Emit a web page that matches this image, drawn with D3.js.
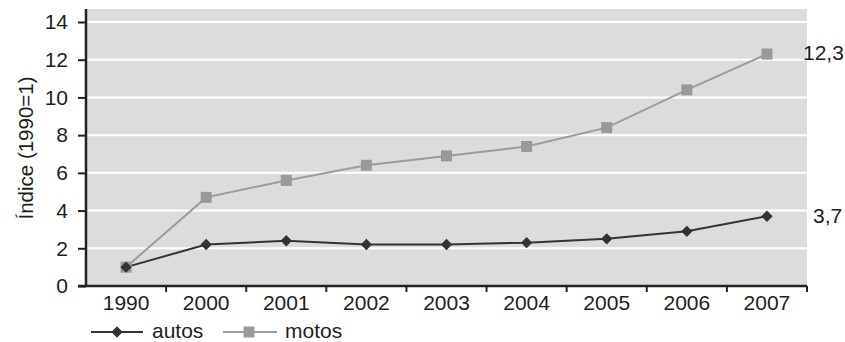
<!DOCTYPE html>
<html>
<head>
<meta charset="utf-8">
<script src="https://cdn.jsdelivr.net/npm/d3@7"></script>
<style>
  html, body { margin: 0; padding: 0; background: #ffffff; }
  svg { display: block; }
  text { font-family: "Liberation Sans", Arial, Helvetica, sans-serif; fill: #1e1e1e; }
</style>
</head>
<body>
<svg id="chart" width="845" height="342"></svg>
<script>
const years = ["1990", "2000", "2001", "2002", "2003", "2004", "2005", "2006", "2007"];
const autos = [1.0, 2.2, 2.4, 2.2, 2.2, 2.3, 2.5, 2.9, 3.7];
const motos = [1.0, 4.7, 5.6, 6.4, 6.9, 7.4, 8.4, 10.4, 12.3];
const yTicks = [0, 2, 4, 6, 8, 10, 12, 14];
const endLabels = ["3,7", "12,3"];
const seriesNames = ["autos", "motos"];
const yTitle = "Índice (1990=1)";

const svg = d3.select("#chart");
const pLeft = 86, pRight = 807, pTop = 9, pBottom = 286;

const x = d3.scaleBand().domain(years).range([pLeft, pRight]).paddingInner(0).paddingOuter(0);
const y = d3.scaleLinear().domain([0, 14]).range([pBottom, 22]);

// background
svg.append("rect").attr("x", pLeft).attr("y", pTop)
  .attr("width", pRight - pLeft).attr("height", pBottom - pTop)
  .attr("fill", "#dcdcdc");

// gridlines
svg.append("g").selectAll("line").data(yTicks.filter(d => d > 0)).join("line")
  .attr("x1", pLeft).attr("x2", pRight)
  .attr("y1", d => y(d)).attr("y2", d => y(d))
  .attr("stroke", "#ffffff").attr("stroke-width", 2);

// y axis
const yAxis = svg.append("g").attr("transform", `translate(${pLeft},0)`)
  .call(d3.axisLeft(y).tickValues(yTicks).tickSize(8).tickPadding(10).tickFormat(d3.format("d")));
yAxis.select(".domain").remove();
yAxis.selectAll(".tick line").attr("stroke", "#222").attr("stroke-width", 2);
yAxis.selectAll(".tick text").style("font-size", "21px").attr("fill", "#1e1e1e");
svg.append("line").attr("x1", pLeft).attr("x2", pLeft).attr("y1", pTop).attr("y2", pBottom + 1)
  .attr("stroke", "#222").attr("stroke-width", 2.5);

// x axis
const xAxis = svg.append("g").attr("transform", `translate(0,${pBottom})`)
  .call(d3.axisBottom(x).tickSize(0).tickPadding(9));
xAxis.select(".domain").remove();
xAxis.selectAll(".tick text").style("font-size", "21px").attr("fill", "#1e1e1e");
svg.append("line").attr("x1", pLeft - 8).attr("x2", pRight).attr("y1", pBottom).attr("y2", pBottom)
  .attr("stroke", "#222").attr("stroke-width", 2.5);
// boundary ticks
svg.append("g").selectAll("line").data(years.slice(1).concat(["__end"])).join("line")
  .attr("x1", d => d === "__end" ? pRight : x(d))
  .attr("x2", d => d === "__end" ? pRight : x(d))
  .attr("y1", pBottom).attr("y2", pBottom + 6)
  .attr("stroke", "#222").attr("stroke-width", 2);

const cx = d => x(d) + x.bandwidth() / 2;

// lines
const line = d3.line().x((d, i) => cx(years[i])).y(d => y(d));
svg.append("path").datum(motos).attr("d", line)
  .attr("fill", "none").attr("stroke", "#9c9c9c").attr("stroke-width", 2);
svg.append("path").datum(autos).attr("d", line)
  .attr("fill", "none").attr("stroke", "#333333").attr("stroke-width", 2);

// markers
const sq = 11;
svg.append("g").selectAll("rect").data(motos).join("rect")
  .attr("x", (d, i) => cx(years[i]) - sq / 2).attr("y", d => y(d) - sq / 2)
  .attr("width", sq).attr("height", sq).attr("fill", "#999999");
const diamond = d3.symbol().type(d3.symbolSquare).size(64);
svg.append("g").selectAll("path").data(autos).join("path")
  .attr("d", diamond)
  .attr("transform", (d, i) => `translate(${cx(years[i])},${y(d)}) rotate(45)`)
  .attr("fill", "#333333");

// end labels
svg.append("text").attr("x", 813).attr("y", y(autos[autos.length - 1]) + 1)
  .attr("dominant-baseline", "middle").style("font-size", "21px").text(endLabels[0]);
svg.append("text").attr("x", 803).attr("y", y(motos[motos.length - 1]))
  .attr("dominant-baseline", "middle").style("font-size", "21px").text(endLabels[1]);

// y title
svg.append("text").attr("transform", "translate(33,148) rotate(-90)")
  .attr("text-anchor", "middle").style("font-size", "20.5px").text(yTitle);

// legend
const lg = svg.append("g").attr("transform", "translate(0,332)");
lg.append("line").attr("x1", 91).attr("x2", 143).attr("y1", 0).attr("y2", 0)
  .attr("stroke", "#333333").attr("stroke-width", 2);
lg.append("path").attr("d", diamond).attr("transform", "translate(117,0) rotate(45)").attr("fill", "#333333");
lg.append("text").attr("x", 152).attr("y", 0).attr("dominant-baseline", "middle")
  .style("font-size", "21px").text(seriesNames[0]);
lg.append("line").attr("x1", 223).attr("x2", 277).attr("y1", 0).attr("y2", 0)
  .attr("stroke", "#9c9c9c").attr("stroke-width", 2);
lg.append("rect").attr("x", 249 - sq / 2).attr("y", -sq / 2).attr("width", sq).attr("height", sq).attr("fill", "#999999");
lg.append("text").attr("x", 285).attr("y", 0).attr("dominant-baseline", "middle")
  .style("font-size", "21px").text(seriesNames[1]);
</script>
</body>
</html>
